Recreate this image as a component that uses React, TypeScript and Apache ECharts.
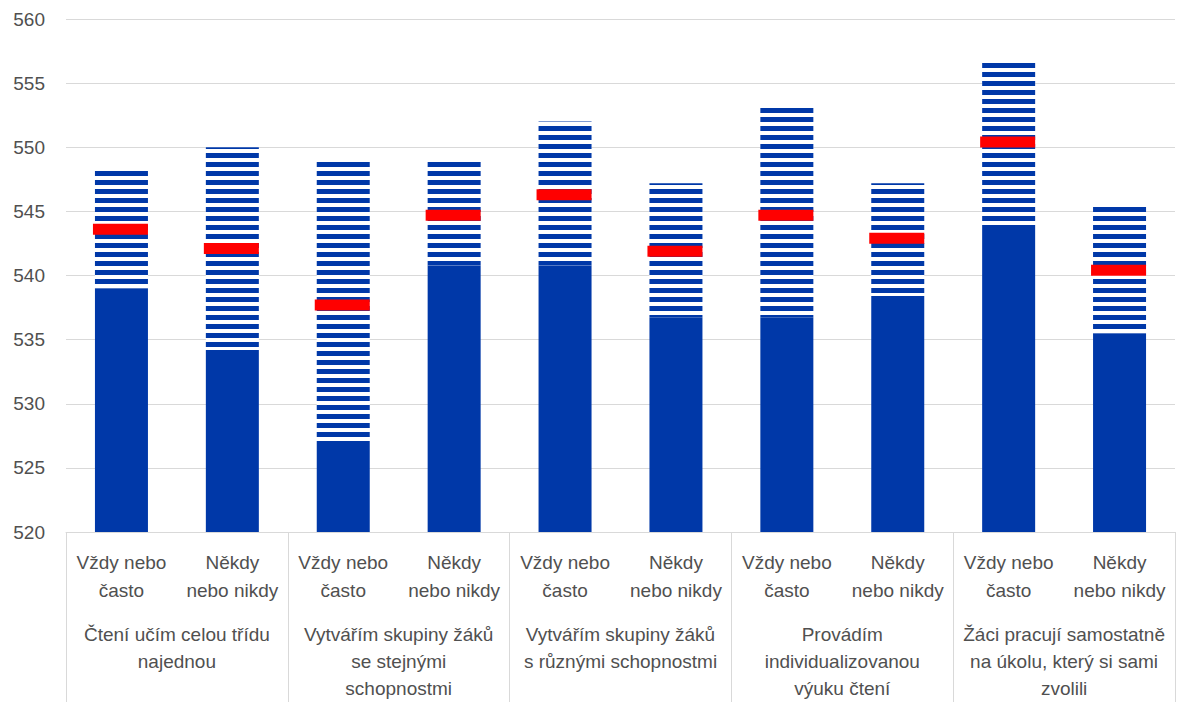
import React, { useEffect, useRef } from "react";
import * as echarts from "echarts";

const categories = [
  "Vždy nebo\nčasto", "Někdy\nnebo nikdy",
  "Vždy nebo\nčasto", "Někdy\nnebo nikdy",
  "Vždy nebo\nčasto", "Někdy\nnebo nikdy",
  "Vždy nebo\nčasto", "Někdy\nnebo nikdy",
  "Vždy nebo\nčasto", "Někdy\nnebo nikdy",
];
const groups = [
  "Čtení učím celou třídu\nnajednou",
  "Vytvářím skupiny žáků\nse stejnými\nschopnostmi",
  "Vytvářím skupiny žáků\ns různými schopnostmi",
  "Provádím\nindividualizovanou\nvýuku čtení",
  "Žáci pracují samostatně\nna úkolu, který si sami\nzvolili",
];
const lowValues = [539.0, 534.2, 526.7, 540.8, 540.8, 536.7, 536.7, 538.4, 543.7, 535.5];
const highValues = [548.2, 550.0, 549.0, 549.0, 552.0, 547.2, 553.2, 547.2, 556.7, 545.4];
const meanValues = [543.6, 542.1, 537.7, 544.7, 546.3, 541.9, 544.7, 542.9, 550.4, 540.4];

const BLUE = "#0038A8";
const TEXT = "#505050";
const FONT = "'Liberation Sans', sans-serif";

export default function App() {
  const ref = useRef<HTMLDivElement>(null);
  useEffect(() => {
    if (!ref.current) return;
    const chart = echarts.init(ref.current, null, { renderer: "svg" });
    chart.setOption({
      animation: false,
      grid: { left: 66, right: 5, top: 19, bottom: 169 },
      xAxis: [
        {
          type: "category",
          data: categories,
          axisLine: { show: true, lineStyle: { color: "#d9d9d9" } },
          axisTick: { show: false },
          axisLabel: {
            interval: 0,
            color: TEXT,
            fontFamily: FONT,
            fontSize: 19,
            lineHeight: 28,
            margin: 16,
          },
        },
        {
          type: "category",
          data: groups,
          position: "bottom",
          axisLine: { show: false },
          axisTick: { show: true, length: 170, interval: 0, lineStyle: { color: "#d9d9d9" } },
          axisLabel: {
            interval: 0,
            color: TEXT,
            fontFamily: FONT,
            fontSize: 19,
            lineHeight: 27,
            margin: 89,
          },
        },
      ],
      yAxis: {
        type: "value",
        min: 520,
        max: 560,
        interval: 5,
        axisLine: { show: false },
        axisTick: { show: false },
        splitLine: { lineStyle: { color: "#d9d9d9", width: 1 } },
        axisLabel: { color: TEXT, fontFamily: FONT, fontSize: 19, margin: 21 },
      },
      series: [
        {
          type: "bar",
          stack: "s",
          barWidth: 53,
          data: lowValues,
          itemStyle: { color: BLUE },
        },
        {
          type: "bar",
          stack: "s",
          barWidth: 53,
          data: highValues.map((h, i) => +(h - lowValues[i]).toFixed(2)),
          itemStyle: {
            color: "#ffffff",
            decal: {
              symbol: "rect",
              symbolSize: 1,
              color: BLUE,
              dashArrayX: [1, 0],
              dashArrayY: [4.3, 3.2],
              rotation: 0,
            },
          },
        },
        {
          type: "scatter",
          data: meanValues,
          symbol: "rect",
          symbolSize: [55, 11],
          symbolOffset: [-1, 0],
          itemStyle: { color: "#FF0000", opacity: 1 },
          z: 5,
        },
      ],
    });
    return () => chart.dispose();
  }, []);
  return (
    <div
      ref={ref}
      style={{ position: "absolute", left: 0, top: 0, width: 1180, height: 702 }}
    />
  );
}
